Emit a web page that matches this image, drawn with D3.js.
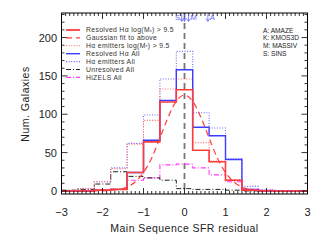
<!DOCTYPE html>
<html><head><meta charset="utf-8">
<script src="https://cdn.jsdelivr.net/npm/d3@7"></script>
<style>body{margin:0;background:#fff}svg{display:block}text{font-family:"Liberation Sans",Arial,sans-serif}</style>
</head><body><svg id="c" width="327" height="248"></svg>
<script>
// bin centres (width 0.4)
const binCenters = [-2.8,-2.4,-2.0,-1.6,-1.2,-0.8,-0.4,0,0.4,0.8,1.2,1.6,2.0,2.4,2.8];
const resolvedHighMass = [0,0,1,2,24,64,116,132,53,38,14,1,0,0,0];
const resolvedAll      = [0,0,1,2,24,66,118,158,83,72,41,2,0,0,0];
const emittersHighMass = [0,3,12,29,61,92,133,146,63,39,15,1,0,0,0];
const emittersAll      = [0,3,12,30,62,99,146,182,102,82,42,6,1,0,0];
const unresolvedAll    = [1,2,9,25,19,17,14,3,2,2,1,0,0,0,0];
const hizelsAll        = [0,0,1,2,14,17,34,35,30,21,12,2,1,0,0];
// Gaussian fit curve
const gaussX = [-3,-2.4,-2.0,-1.6,-1.4,-1.2,-1.0,-0.8,-0.6,-0.4,-0.2,0,0.2,0.4,0.6,0.8,1.0,1.2,1.4,1.6,2.0,2.4,3];
const gaussY = [0,0,0.2,1.8,5,12,24,43,69,96,117,125,117,96,69,43,24,12,5,1.8,0.2,0,0];
const xTicks = [-3,-2,-1,0,1,2,3];
const yTicks = [0,50,100,150,200];
const legendLabels = ["Resolved Hα log(M*) > 9.5","Gaussian fit to above","Hα emitters log(M*) > 9.5","Resolved Hα All","Hα emitters All","Unresolved All","HiZELS All"];
const surveyLabels = ["A:  AMAZE","K:  KMOS3D","M:  MASSIV","S:  SINS"];
const surveyArrows = [{k:"S",x:-0.07,side:"l"},{k:"K",x:0.0,side:"n"},{k:"M",x:0.1,side:"r"},{k:"A",x:0.57,side:"r"}];

const L=61.5,R=307.5,T=13,B=194;
const x=d3.scaleLinear().domain([-3,3]).range([L,R]);
const y=d3.scaleLinear().domain([-4,232]).range([B,T]);
const svg=d3.select("#c");

const RED="#ff3c3c",BLUE="#3c3cff",RDOT="#ff6a6a",BDOT="#6a6aff",MAG="#ff3cff",BLK="#222";
const styles=[
 {d:resolvedHighMass,c:RED,w:1.6,da:null},
 {d:null,c:RED,w:1.2,da:"6,4"},
 {d:emittersHighMass,c:RDOT,w:1.1,da:"1,1.6"},
 {d:resolvedAll,c:BLUE,w:1.4,da:null},
 {d:emittersAll,c:BDOT,w:1.1,da:"1,1.6"},
 {d:unresolvedAll,c:BLK,w:1,da:"5,2,1,2"},
 {d:hizelsAll,c:MAG,w:1.1,da:"5,2,1,2"}
];
const line=d3.line().x(p=>x(p[0])).y(p=>y(p[1]));
function steps(vals){
  const pts=[];
  vals.forEach((v,i)=>{pts.push([binCenters[i]-0.2,v]);pts.push([binCenters[i]+0.2,v]);});
  return pts;
}
const g=svg.append("g");
g.append("line").attr("x1",x(0)).attr("x2",x(0)).attr("y1",T).attr("y2",B)
 .attr("stroke","#777").attr("stroke-width",1.8).attr("stroke-dasharray","6,4");
const order=[6,5,4,2,3,0,1];
order.forEach(i=>{
  const s=styles[i];
  const pts = s.d? steps(s.d) : gaussX.map((v,j)=>[v,gaussY[j]]);
  g.append("path").attr("d", s.d? line(pts) : line.curve(d3.curveMonotoneX)(pts))
   .attr("fill","none").attr("stroke",s.c).attr("stroke-width",s.w)
   .attr("stroke-dasharray",s.da);
  line.curve(d3.curveLinear);
});
svg.append("rect").attr("x",L).attr("y",T).attr("width",R-L).attr("height",B-T)
 .attr("fill","none").attr("stroke","#000").attr("stroke-width",1);
const tk=svg.append("g").attr("stroke","#000").attr("stroke-width",0.8);
d3.range(-30,31).forEach(i=>{
  const v=i/10, major=(i%10===0), len=major?6:3, px=x(v);
  tk.append("line").attr("x1",px).attr("x2",px).attr("y1",B).attr("y2",B-len);
  tk.append("line").attr("x1",px).attr("x2",px).attr("y1",T).attr("y2",T+len);
});
d3.range(0,231,10).forEach(v=>{
  const major=(v%50===0), len=major?6:3, py=y(v);
  tk.append("line").attr("x1",L).attr("x2",L+len).attr("y1",py).attr("y2",py);
  tk.append("line").attr("x1",R).attr("x2",R-len).attr("y1",py).attr("y2",py);
});
svg.selectAll(".xl").data(xTicks).join("text").attr("x",d=>x(d)).attr("y",215.5)
 .attr("text-anchor","middle").attr("font-size",11).attr("fill","#222")
 .text(d=>d<0?"\u2212"+Math.abs(d):d);
svg.selectAll(".yl").data(yTicks).join("text").attr("x",57).attr("y",d=>y(d)+4)
 .attr("text-anchor","end").attr("font-size",11).attr("fill","#222").text(d=>d);
svg.append("text").attr("x",x(0)).attr("y",232).attr("text-anchor","middle")
 .attr("font-size",10.5).attr("letter-spacing",0.45).attr("fill","#222").text("Main Sequence SFR residual");
svg.append("text").attr("transform","translate(29,104) rotate(-90)").attr("text-anchor","middle")
 .attr("font-size",10.5).attr("letter-spacing",0.5).attr("fill","#222").text("Num. Galaxies");
legendLabels.forEach((lab,i)=>{
  const s=styles[i], ly=30+i*7.9;
  svg.append("line").attr("x1",66).attr("x2",80).attr("y1",ly).attr("y2",ly)
   .attr("stroke",s.c).attr("stroke-width",i===0?1.8:s.w).attr("stroke-dasharray",s.da);
  const t=svg.append("text").attr("x",86).attr("y",ly+2.4).attr("font-size",6.8)
   .attr("letter-spacing",0.35).attr("fill","#333");
  const m=lab.match(/^(.*)\(M\*\)(.*)$/);
  if(m){
    t.append("tspan").text(m[1]+"(M");
    t.append("tspan").attr("font-size",4.5).attr("dy",1.2).text("*");
    t.append("tspan").attr("dy",-1.2).text(")"+m[2]);
  } else t.text(lab);
});
surveyLabels.forEach((lab,i)=>{
  svg.append("text").attr("x",263).attr("y",32.5+i*7.7).attr("font-size",6.6).attr("fill","#222").text(lab);
});
surveyArrows.forEach(a=>{
  const px=x(a.x);
  svg.append("line").attr("x1",px).attr("x2",px).attr("y1",14).attr("y2",21).attr("stroke",BDOT).attr("stroke-width",0.8);
  svg.append("path").attr("d",`M${px-2},${18.5}L${px},${21.5}L${px+2},${18.5}`).attr("fill","none").attr("stroke",BDOT).attr("stroke-width",0.8);
  if(a.side!=="n") svg.append("text").attr("x",a.side==="l"?px-1.5:px+2).attr("y",20)
   .attr("text-anchor",a.side==="l"?"end":"start").attr("font-size",7.5).attr("fill",BDOT).text(a.k);
});
</script></body></html>
